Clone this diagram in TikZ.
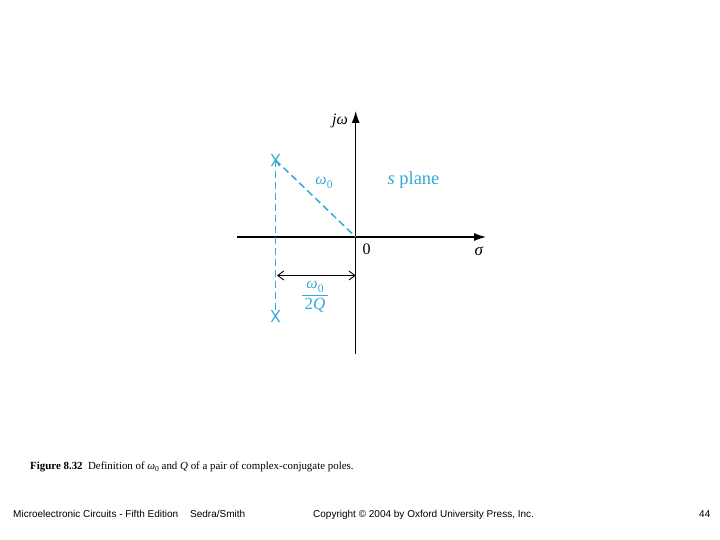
\documentclass[tikz,border=0pt]{standalone}
\usepackage{fontspec}
\setmainfont{Liberation Serif}
\newfontfamily\footfont{Liberation Sans}
\usetikzlibrary{arrows.meta,calc}
\definecolor{pblue}{RGB}{52,168,214}
\newcommand{\wzero}{\textit{ω}\raisebox{-0.25em}{\scalebox{0.72}{0}}}
\tikzset{
  axis/.style={black, line width=1.1pt, -{Latex[length=12pt,width=8pt]}},
  dim/.style={black, line width=0.9pt, {Straight Barb[length=6pt,width=9pt]}-{Straight Barb[length=6pt,width=9pt]}},
  guide/.style={pblue, line width=1.5pt, dash pattern=on 7pt off 4pt},
  vguide/.style={guide, line width=1.7pt},
  polemark/.style={pblue, line width=1.2pt},
  lbl/.style={inner sep=0pt},
  foot/.style={inner sep=0pt, anchor=base west, font=\footfont\fontsize{10}{12}\selectfont}
}
\begin{document}
\begin{tikzpicture}[x=1pt,y=-1pt]
\useasboundingbox (0,0) rectangle (720,540);
% coordinates
\coordinate (O) at (355.7,237);
\coordinate (Pt) at (275.5,160);
\coordinate (Pb) at (275.5,316);
\coordinate (xl) at (237,237);
\coordinate (xr) at (486,237);
\coordinate (yt) at (355.7,111);
\coordinate (yb) at (355.7,354);
\coordinate (dl) at (277,275.5);
\coordinate (dr) at (355.7,275.5);
\coordinate (bl) at (302,295);
\coordinate (br) at (328,295);
% axes
\draw[axis] (xl) -- (xr);
\draw[axis] (yb) -- (yt);
% dashed guides
\draw[guide] (Pt) -- (O);
\draw[vguide] (Pt) -- (Pb);
% poles
\draw[polemark] ($(Pt)+(-4,-6)$) -- ($(Pt)+(4,6)$) ($(Pt)+(4,-6)$) -- ($(Pt)+(-4,6)$);
\draw[polemark] ($(Pb)+(-4,-6)$) -- ($(Pb)+(4,6)$) ($(Pb)+(4,-6)$) -- ($(Pb)+(-4,6)$);
% dimension
\draw[dim] (dl) -- (dr);
% labels
\node[lbl] (jw) at (340,121) {\fontsize{16}{18}\selectfont\textit{jω}};
\node[lbl] (sig) at (479,251) {\fontsize{17}{19}\selectfont\textit{σ}};
\node[lbl] (zero) at (366.5,249) {\fontsize{16}{18}\selectfont 0};
\node[lbl, text=pblue] (w0) at (324,183) {\fontsize{16}{18}\selectfont\wzero};
\node[lbl, text=pblue] (sp) at (413.5,180) {\fontsize{18.5}{20}\selectfont\textit{s} plane};
% fraction
\node[lbl, text=pblue] (num) at (315,286.5) {\fontsize{16}{18}\selectfont\wzero};
\draw[pblue, line width=0.9pt] (bl) -- (br);
\node[lbl, text=pblue] (den) at (315,305) {\fontsize{17}{19}\selectfont 2\textit{Q}};
% caption
\node[foot, font=\fontsize{10.9}{12}\selectfont] (cap) at (30,469) {\textbf{Figure 8.32}\ \ Definition of \textit{ω}\raisebox{-0.2em}{\scalebox{0.7}{0}} and \textit{Q} of a pair of complex-conjugate poles.};
% footer
\node[foot] (f1) at (13,517) {Microelectronic Circuits - Fifth Edition};
\node[foot] (f2) at (190,517) {Sedra/Smith};
\node[foot] (f3) at (313,517) {Copyright © 2004 by Oxford University Press, Inc.};
\node[foot] (f4) at (699,517) {44};
\end{tikzpicture}
\end{document}
